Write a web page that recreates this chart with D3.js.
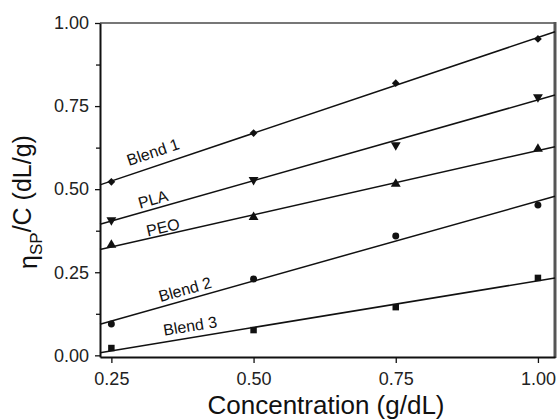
<!DOCTYPE html>
<html>
<head>
<meta charset="utf-8">
<script src="https://cdn.jsdelivr.net/npm/d3@7"></script>
<style>
  body { margin: 0; background: #fff; }
  svg { display: block; font-family: "Liberation Sans", Arial, sans-serif; }
</style>
</head>
<body>
<svg></svg>
<script>
// concentrations (g/dL)
let conc = [0.25, 0.5, 0.75, 1.0];

// reduced viscosity values
let blend1 = [0.522, 0.669, 0.819, 0.952];
let pla = [0.407, 0.528, 0.633, 0.777];
let peo = [0.332, 0.416, 0.516, 0.621];
let blend2 = [0.094, 0.23, 0.359, 0.452];
let blend3 = [0.022, 0.076, 0.145, 0.233];

let seriesNames = ["Blend 1", "PLA", "PEO", "Blend 2", "Blend 3"];
let xTicks = [0.25, 0.5, 0.75, 1.0];
let yTicks = [0.0, 0.25, 0.5, 0.75, 1.0];
let yMinor = [0.125, 0.375, 0.625, 0.875];

let width = 560;
let height = 420;
let plotLeft = 100, plotRight = 555, plotTop = 23, plotBottom = 357;

let series = [
  { name: seriesNames[0], values: blend1, symbol: d3.symbolSquare, size: 30, rot: 45, lab: { x: 153, off: 15 } },
  { name: seriesNames[1], values: pla, symbol: d3.symbolTriangle, size: 42, rot: 180, lab: { x: 153, off: 10 } },
  { name: seriesNames[2], values: peo, symbol: d3.symbolTriangle, size: 42, rot: 0, lab: { x: 163, off: 8 } },
  { name: seriesNames[3], values: blend2, symbol: d3.symbolCircle, size: 38, rot: 0, lab: { x: 185, off: 11 } },
  { name: seriesNames[4], values: blend3, symbol: d3.symbolSquare, size: 42, rot: 0, lab: { x: 190, off: 12 } },
];

let svg = d3.select("svg").attr("width", width).attr("height", height);

let xScale = d3.scaleLinear().domain([0.23, 1.03]).range([plotLeft, plotRight]);
let yScale = d3.scaleLinear().domain([-0.005, 1.0]).range([plotBottom, plotTop]);

// least squares fit for each series
function fit(vals) {
  let mx = d3.mean(conc);
  let my = d3.mean(vals);
  let sxy = d3.sum(conc, (c, i) => (c - mx) * (vals[i] - my));
  let sxx = d3.sum(conc, (c) => (c - mx) * (c - mx));
  let slope = sxy / sxx;
  return { slope: slope, intercept: my - slope * mx };
}

// frame: top and right borders
svg.append("line")
  .attr("x1", plotLeft).attr("x2", plotRight).attr("y1", plotTop).attr("y2", plotTop)
  .attr("stroke", "#777").attr("stroke-width", 2);
svg.append("line")
  .attr("x1", plotRight).attr("x2", plotRight).attr("y1", plotTop - 1).attr("y2", plotBottom + 1)
  .attr("stroke", "#555").attr("stroke-width", 3);

// fit lines
let x0 = xScale.domain()[0], x1 = xScale.domain()[1];
series.forEach((s) => {
  let f = fit(s.values);
  s.fit = f;
  svg.append("line")
    .attr("x1", xScale(x0)).attr("y1", yScale(f.intercept + f.slope * x0))
    .attr("x2", xScale(x1)).attr("y2", yScale(f.intercept + f.slope * x1))
    .attr("stroke", "#111").attr("stroke-width", 1.5);
});

// markers
series.forEach((s) => {
  svg.append("g")
    .selectAll("path")
    .data(s.values)
    .enter()
    .append("path")
    .attr("d", d3.symbol().type(s.symbol).size(s.size))
    .attr("transform", (d, i) =>
      `translate(${xScale(conc[i])},${yScale(d)}) rotate(${s.rot})`)
    .attr("fill", "#111");
});

// series labels along the lines
series.forEach((s) => {
  let c = xScale.invert(s.lab.x);
  let ly = yScale(s.fit.intercept + s.fit.slope * c);
  let pxSlope = yScale(0) - yScale(s.fit.slope);
  pxSlope = pxSlope / (xScale(1) - xScale(0));
  let angle = -Math.atan(pxSlope) * 180 / Math.PI;
  svg.append("text")
    .attr("transform", `translate(${s.lab.x},${ly - s.lab.off}) rotate(${angle})`)
    .attr("text-anchor", "middle")
    .attr("dy", "0.35em")
    .style("font-size", "16px")
    .style("fill", "#111")
    .text(s.name);
});

// axes
let xAxis = d3.axisBottom(xScale)
  .tickValues(xTicks)
  .tickFormat(d3.format(".2f"))
  .tickSize(6).tickSizeOuter(0).tickPadding(9);
let gx = svg.append("g")
  .attr("transform", `translate(0,${plotBottom})`)
  .call(xAxis);

let yAxis = d3.axisLeft(yScale)
  .tickValues(yTicks)
  .tickFormat(d3.format(".2f"))
  .tickSize(5).tickSizeOuter(0).tickPadding(6);
let gy = svg.append("g")
  .attr("transform", `translate(${plotLeft},0)`)
  .call(yAxis);

let gyMinor = svg.append("g")
  .attr("transform", `translate(${plotLeft},0)`)
  .call(d3.axisLeft(yScale).tickValues(yMinor).tickFormat("").tickSize(4).tickSizeOuter(0));
gyMinor.select(".domain").remove();

[gx, gy, gyMinor].forEach((g) => {
  g.selectAll(".domain").attr("stroke", "#111").attr("stroke-width", 2);
  g.selectAll(".tick line").attr("stroke", "#111").attr("stroke-width", 1.3);
  g.selectAll(".tick text")
    .style("font-family", "'Liberation Sans', Arial, sans-serif")
    .style("font-size", "18px")
    .style("fill", "#222");
});

// axis titles
svg.append("text")
  .attr("x", 326)
  .attr("y", 414)
  .attr("text-anchor", "middle")
  .style("font-size", "26px")
  .style("fill", "#111")
  .text("Concentration (g/dL)");

let yt = svg.append("text")
  .attr("transform", "translate(37,202) rotate(-90)")
  .attr("text-anchor", "middle")
  .style("font-size", "25px")
  .style("fill", "#111");
yt.append("tspan").text("\u03b7");
yt.append("tspan").attr("dy", "0.3em").style("font-size", "17px").text("SP");
yt.append("tspan").attr("dy", "-0.45em").text("/C (dL/g)");
</script>
</body>
</html>
